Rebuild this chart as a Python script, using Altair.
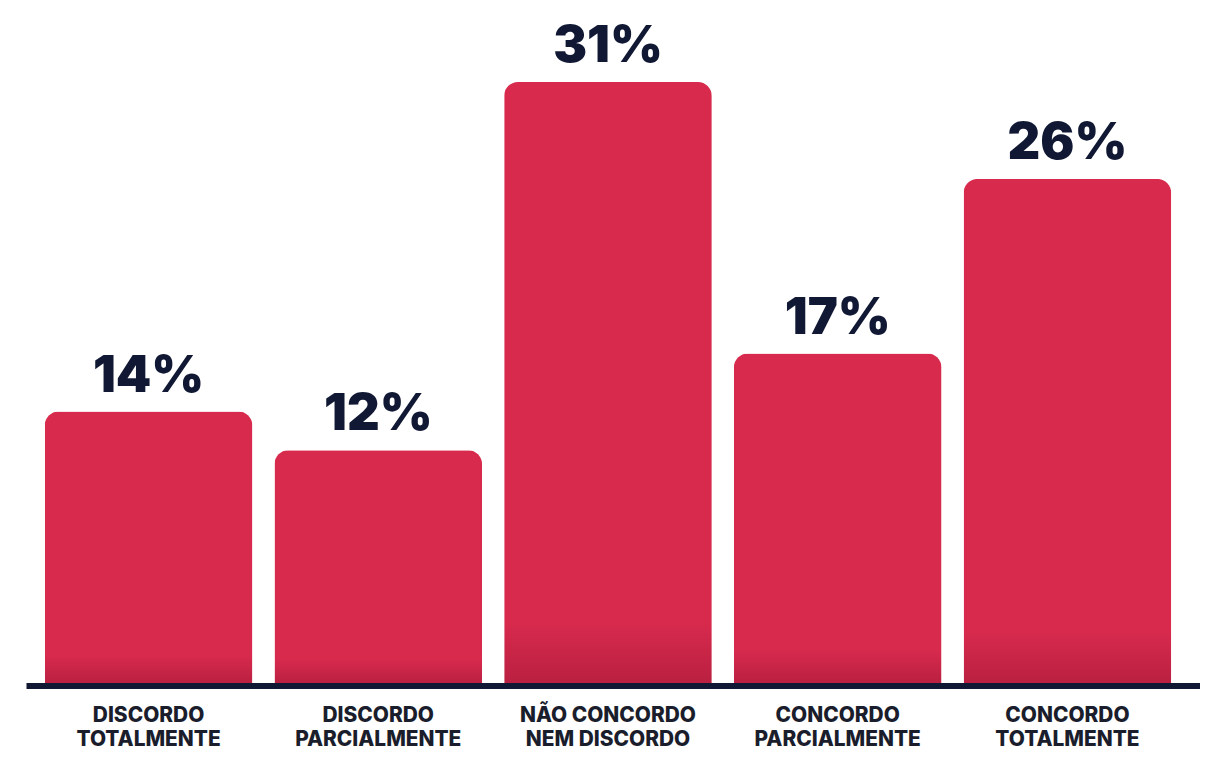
import altair as alt
import pandas as pd

categories = [
    "DISCORDO TOTALMENTE",
    "DISCORDO PARCIALMENTE",
    "NÃO CONCORDO NEM DISCORDO",
    "CONCORDO PARCIALMENTE",
    "CONCORDO TOTALMENTE",
]
label_line1 = ["DISCORDO", "DISCORDO", "NÃO CONCORDO", "CONCORDO", "CONCORDO"]
label_line2 = ["TOTALMENTE", "PARCIALMENTE", "NEM DISCORDO", "PARCIALMENTE", "TOTALMENTE"]
values = [14, 12, 31, 17, 26]
value_labels = ["14%", "12%", "31%", "17%", "26%"]

df = pd.DataFrame({
    "cat": categories,
    "val": values,
    "lab": value_labels,
    "l1": label_line1,
    "l2": label_line2,
})

RED = "#D72A4D"
NAVY = "#101833"
LABEL = "#1a1d2b"
W, H = 1170, 605

x = alt.X(
    "cat:N",
    sort=categories,
    scale=alt.Scale(paddingInner=0.0962, paddingOuter=0.0778),
    axis=None,
)
y = alt.Y("val:Q", scale=alt.Scale(domain=[0, 31], nice=False), axis=None)

bars = alt.Chart(df).mark_bar(
    cornerRadiusTopLeft=14,
    cornerRadiusTopRight=14,
    fill=alt.Gradient(
        gradient="linear",
        x1=0, x2=0, y1=0, y2=1,
        stops=[
            alt.GradientStop(offset=0, color=RED),
            alt.GradientStop(offset=0.9, color=RED),
            alt.GradientStop(offset=1, color="#BA2041"),
        ],
    ),
).encode(x=x, y=y)

text = alt.Chart(df).mark_text(
    baseline="alphabetic",
    dy=-20,
    font="Inter",
    fontWeight=900,
    fontSize=51,
    color=NAVY,
).encode(x=x, y="val:Q", text="lab:N")

cat_style = dict(
    baseline="alphabetic",
    align="center",
    font="Inter",
    fontWeight=800,
    fontSize=21,
    color=LABEL,
)
line1 = alt.Chart(df).mark_text(**cat_style).encode(
    x=x, y=alt.value(H + 39), text="l1:N"
)
line2 = alt.Chart(df).mark_text(**cat_style).encode(
    x=x, y=alt.value(H + 63), text="l2:N"
)

rule = alt.Chart(df).mark_rule(color=NAVY, strokeWidth=6).encode(
    x=alt.value(0), x2=alt.value(W + 11), y=alt.value(H + 3)
)

chart = (
    alt.layer(bars, text, rule, line1, line2)
    .properties(
        width=W,
        height=H,
        autosize=alt.AutoSizeParams(type="none"),
        padding={"left": 19, "top": 72, "right": 11, "bottom": 69},
        background="white",
    )
    .configure_view(stroke=None)
)

chart.save("out.html", embed_options={"renderer": "svg", "actions": False})
